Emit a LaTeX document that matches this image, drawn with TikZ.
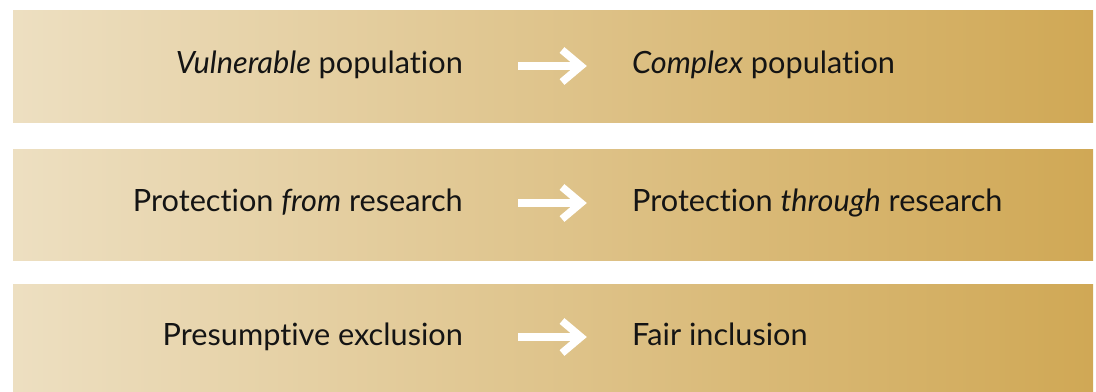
\documentclass[tikz,border=0pt]{standalone}
\usepackage{fontspec}
\setmainfont{Lato}[Ligatures=NoCommon]
\definecolor{barlight}{RGB}{237,223,193}
\definecolor{bardark}{RGB}{208,168,85}
\definecolor{ink}{RGB}{20,20,20}
\begin{document}
\begin{tikzpicture}[x=1bp,y=-1bp,
  band/.style={left color=barlight,right color=bardark,draw=none},
  label/.style={inner sep=0pt,font=\fontsize{30.8}{36}\selectfont,text=ink},
  shaft/.style={draw=white,line width=7.5bp},
  chevron/.style={draw=white,line width=7.5bp,line join=miter,miter limit=10}]
  \useasboundingbox (0,0) rectangle (1096,391);
  % three horizontal gradient bands
  \fill[band] (13,10) rectangle (1093,122);
  \fill[band] (13,149) rectangle (1093,260);
  \fill[band] (13,284) rectangle (1093,391);
  % row texts
  \node[label,anchor=base east] (l1) at (463,73) {\textit{Vulnerable} population};
  \node[label,anchor=base west] (r1) at (632,73) {\textit{Complex} population};
  \node[label,anchor=base east] (l2) at (463,211) {Protection \textit{from} research};
  \node[label,anchor=base west] (r2) at (632,211) {Protection \textit{through} research};
  \node[label,anchor=base east] (l3) at (463,345) {Presumptive exclusion};
  \node[label,anchor=base west] (r3) at (632,345) {Fair inclusion};
  % arrow ends
  \coordinate (a1) at (518,66);  \coordinate (b1) at (581,66);
  \coordinate (a2) at (518,203); \coordinate (b2) at (581,203);
  \coordinate (a3) at (518,337); \coordinate (b3) at (581,337);
  \foreach \i in {1,2,3}{
    \draw[shaft] (a\i) -- (b\i);
    \draw[chevron] (b\i) ++(-19,-16) -- (b\i) -- ++(-19,16);
  }
\end{tikzpicture}
\end{document}
